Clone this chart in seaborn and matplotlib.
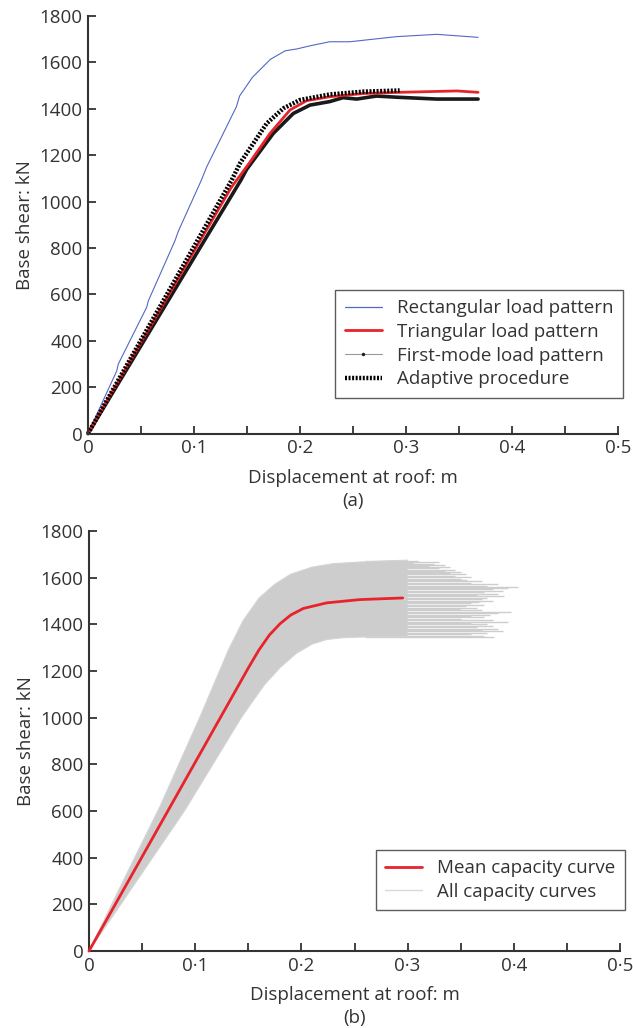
import numpy as np
import matplotlib
matplotlib.use("Agg")
import matplotlib.pyplot as plt
import seaborn as sns
from matplotlib.lines import Line2D
from matplotlib.ticker import MultipleLocator, FuncFormatter

# ---------------- data: panel (a) ----------------
rect_d = [0, 0.01, 0.0271, 0.0286, 0.0554, 0.0569, 0.0821, 0.0852, 0.107, 0.112, 0.125,
          0.140, 0.143, 0.155, 0.172, 0.186, 0.197, 0.21, 0.228, 0.247, 0.269, 0.291, 0.329, 0.368]
rect_v = [0, 100, 270, 300, 545, 572, 832, 872, 1093, 1150, 1270,
          1409, 1455, 1535, 1613, 1650, 1658, 1672, 1689, 1689, 1700, 1711, 1721, 1708]

tri_d = [0, 0.05, 0.1, 0.135, 0.1528, 0.1717, 0.1906, 0.2063, 0.228, 0.26, 0.294, 0.348, 0.368]
tri_v = [0, 393, 786, 1060, 1170, 1294, 1395, 1435, 1452, 1466, 1471, 1477, 1471]

fm_d = [0, 0.05, 0.1, 0.1443, 0.1497, 0.1748, 0.1937, 0.2094, 0.228, 0.2406, 0.2535,
        0.272, 0.291, 0.329, 0.368]
fm_v = [0, 379, 758, 1093, 1139, 1294, 1380, 1416, 1431, 1448, 1442,
        1455, 1450, 1442, 1442]

ad_d = [0, 0.05, 0.1, 0.1356, 0.1434, 0.1686, 0.1843, 0.2, 0.228, 0.26, 0.294]
ad_v = [0, 403, 806, 1093, 1165, 1337, 1402, 1438, 1462, 1474, 1479]

labels_a = ["Rectangular load pattern", "Triangular load pattern",
            "First-mode load pattern", "Adaptive procedure"]

# ---------------- data: panel (b) ----------------
mean_d = [0, 0.0464, 0.0998, 0.14, 0.15, 0.16, 0.17, 0.18, 0.19, 0.2018, 0.2238, 0.255, 0.2954]
mean_v = [0, 375, 807, 1132, 1213, 1290, 1355, 1403, 1440, 1468, 1492, 1506, 1513]

upper_d = [0, 0.03, 0.0669, 0.1045, 0.1312, 0.145, 0.16, 0.175, 0.19, 0.21, 0.23, 0.255, 0.28, 0.30]
upper_v = [0, 280, 620, 1003, 1289, 1415, 1512, 1572, 1615, 1645, 1660, 1667, 1672, 1675]
lower_d = [0, 0.0904, 0.1438, 0.165, 0.18, 0.195, 0.21, 0.2238, 0.24, 0.26, 0.30]
lower_v = [0, 604, 1003, 1140, 1215, 1275, 1315, 1335, 1343, 1346, 1346]

tail_v = [1672, 1668, 1664, 1660, 1655, 1650, 1645, 1640, 1635, 1630,
          1625, 1620, 1614, 1608, 1602, 1596, 1590, 1584, 1578, 1572,
          1566, 1561, 1556, 1550, 1544, 1538, 1532, 1526, 1520, 1514,
          1508, 1502, 1496, 1490, 1484, 1478, 1472, 1466, 1460, 1454,
          1448, 1442, 1436, 1430, 1424, 1418, 1412, 1406, 1400, 1394,
          1388, 1382, 1376, 1370, 1364, 1358, 1352, 1347]
tail_end = [0.31, 0.33, 0.305, 0.325, 0.335, 0.32, 0.34, 0.33, 0.345, 0.335,
            0.35, 0.34, 0.355, 0.345, 0.36, 0.35, 0.356, 0.37, 0.36, 0.385,
            0.375, 0.404, 0.395, 0.38, 0.39, 0.372, 0.385, 0.365, 0.391, 0.375,
            0.37, 0.38, 0.367, 0.36, 0.372, 0.355, 0.365, 0.349, 0.37, 0.397,
            0.385, 0.378, 0.36, 0.372, 0.35, 0.38, 0.395, 0.36, 0.375, 0.38,
            0.365, 0.385, 0.37, 0.39, 0.375, 0.36, 0.372, 0.381]

labels_b = ["Mean capacity curve", "All capacity curves"]

# ---------------- style ----------------
sns.set_style("ticks")
plt.rcParams["font.family"] = ["Open Sans", "DejaVu Sans"]
TXT = "#333333"
FS = 13.5

fig = plt.figure(figsize=(6.33, 10.28), dpi=100)
W, H = 633, 1028
ax1 = fig.add_axes([88 / W, 1 - 433.6 / H, 530 / W, (433.6 - 16) / H])
ax2 = fig.add_axes([89 / W, 1 - 951 / H, 531 / W, 420 / H])

BLUE = "#5468c4"
RED = "#e8232b"
GRAY = "#cdcdcd"


def fmt_x(v, _):
    if abs(v) < 1e-9:
        return "0"
    return f"{v:.1f}".replace(".", "\u00b7")


def style_axes(ax, xlabel):
    ax.set_xlim(0, 0.5)
    ax.set_ylim(0, 1800)
    ax.xaxis.set_major_locator(MultipleLocator(0.1))
    ax.xaxis.set_minor_locator(MultipleLocator(0.05))
    ax.yaxis.set_major_locator(MultipleLocator(200))
    ax.xaxis.set_major_formatter(FuncFormatter(fmt_x))
    ax.tick_params(which="both", direction="in", length=6, width=1.3, colors=TXT,
                   labelsize=FS, pad=4)
    ax.tick_params(axis="x", which="minor", length=6)
    for s in ["left", "bottom"]:
        ax.spines[s].set_linewidth(1.5)
        ax.spines[s].set_color(TXT)
    sns.despine(ax=ax)
    ax.set_ylabel("Base shear: kN", fontsize=FS, color=TXT, labelpad=4)
    ax.set_xlabel(xlabel, fontsize=FS, color=TXT, labelpad=8.5, linespacing=1.35)


# ---------------- panel (a) ----------------
sns.lineplot(x=rect_d, y=rect_v, ax=ax1, color=BLUE, linewidth=0.8, sort=False,
             estimator=None, clip_on=False)
sns.lineplot(x=fm_d, y=fm_v, ax=ax1, color="#1a1a1a", linewidth=2.6, sort=False,
             estimator=None, clip_on=False)
sns.lineplot(x=tri_d, y=tri_v, ax=ax1, color=RED, linewidth=2.0, sort=False,
             estimator=None, clip_on=False)
sns.lineplot(x=ad_d, y=ad_v, ax=ax1, color="black", linewidth=3.2, sort=False,
             estimator=None, clip_on=False)
ax1.lines[-1].set_dashes((0.45, 0.35))
style_axes(ax1, "Displacement at roof: m\n(a)")

h_a = [Line2D([], [], color=BLUE, lw=0.9),
       Line2D([], [], color=RED, lw=2.0),
       Line2D([], [], color="#999999", lw=0.8, marker=".", markersize=3,
              markerfacecolor="#222222", markeredgecolor="#222222"),
       Line2D([], [], color="black", lw=3.2, dashes=(0.45, 0.35))]
leg1 = fig.legend(h_a, labels_a, loc="upper right", bbox_to_anchor=(623 / W, 1 - 290 / H),
                  frameon=True, fancybox=False, fontsize=FS, handlelength=2.0,
                  labelspacing=0.3, borderpad=0.5, handletextpad=0.8, borderaxespad=0)
leg1.get_frame().set_edgecolor(TXT)
leg1.get_frame().set_linewidth(1.0)
for t in leg1.get_texts():
    t.set_color(TXT)

# ---------------- panel (b) ----------------
poly_x = np.concatenate([upper_d, lower_d[::-1]])
poly_y = np.concatenate([upper_v, lower_v[::-1]])
ax2.fill(poly_x, poly_y, color=GRAY, lw=0, zorder=1)
ax2.hlines(tail_v, 0.26, tail_end, color=GRAY, lw=1.0, zorder=1)
sns.lineplot(x=upper_d, y=upper_v, ax=ax2, color="#d4d4d4", linewidth=0.8, sort=False,
             estimator=None, zorder=1)
sns.lineplot(x=lower_d, y=lower_v, ax=ax2, color="#d4d4d4", linewidth=0.8, sort=False,
             estimator=None, zorder=1)
sns.lineplot(x=mean_d, y=mean_v, ax=ax2, color=RED, linewidth=2.0, sort=False,
             estimator=None, zorder=3, clip_on=False)
style_axes(ax2, "Displacement at roof: m\n(b)")

h_b = [Line2D([], [], color=RED, lw=2.0), Line2D([], [], color="#d9d9d9", lw=1.0)]
leg2 = fig.legend(h_b, labels_b, loc="upper right", bbox_to_anchor=(625 / W, 1 - 850 / H),
                  frameon=True, fancybox=False, fontsize=FS, handlelength=2.0,
                  labelspacing=0.3, borderpad=0.5, handletextpad=0.8, borderaxespad=0)
leg2.get_frame().set_edgecolor(TXT)
leg2.get_frame().set_linewidth(1.0)
for t in leg2.get_texts():
    t.set_color(TXT)

fig.savefig("out.png", dpi=100)
